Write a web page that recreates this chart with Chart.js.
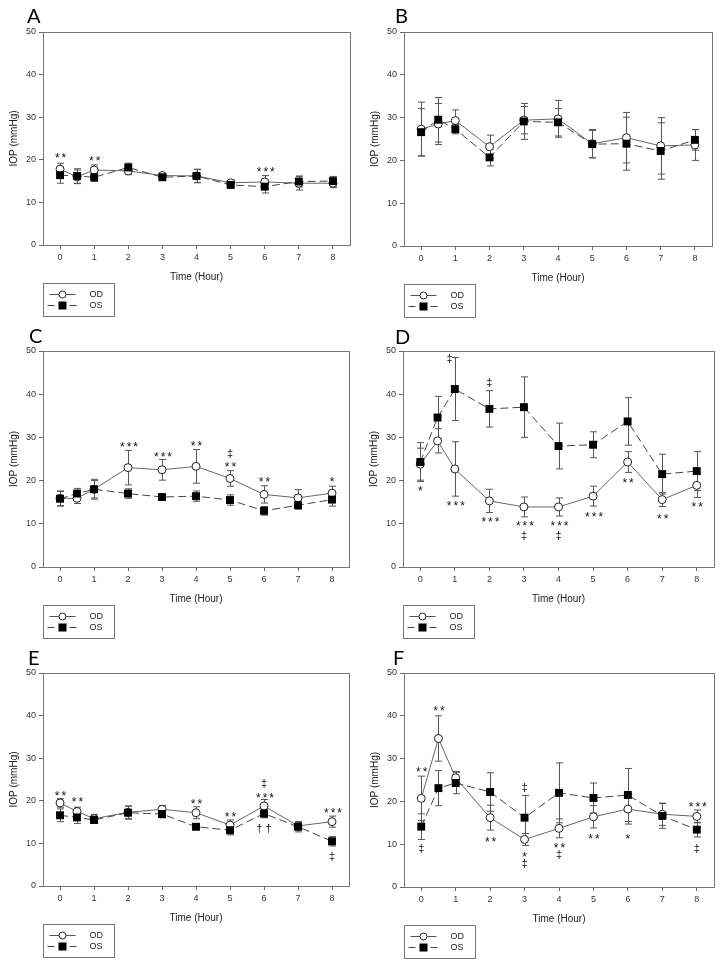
<!DOCTYPE html>
<html>
<head>
<meta charset="utf-8">
<script src="https://cdn.jsdelivr.net/npm/chart.js@4"></script>
<style>
body { margin: 0; background: #fff; width: 724px; height: 968px; position: relative; overflow: hidden; }
canvas { position: absolute; }
</style>
</head>
<body>
<script>
// time points and axis ticks
var hours = [0, 0.5, 1, 2, 3, 4, 5, 6, 7, 8];
var xTicks = [0, 1, 2, 3, 4, 5, 6, 7, 8];
var yTicks = [0, 10, 20, 30, 40, 50];

// panel A
var odA = [17.8, 16.0, 17.6, 17.4, 16.3, 16.2, 14.6, 14.8, 14.5, 14.5];
var odA_sd = [1.4, 1.6, 1.2, 0.9, 0.6, 1.5, 0.7, 1.5, 1.6, 1.0];
var osA = [16.4, 16.2, 15.9, 18.2, 15.9, 16.2, 14.1, 13.7, 14.9, 15.0];
var osA_sd = [1.9, 1.7, 1.0, 1.0, 0.5, 1.6, 0.6, 1.5, 1.3, 1.1];
var annA = [[0, 20.9, '**'], [1, 20.4, '**'], [6, 17.8, '***']];

// panel B
var odB = [27.3, 28.5, 29.3, 23.2, 29.4, 29.7, 23.9, 25.3, 23.4, 23.6];
var odB_sd = [6.3, 4.8, 2.5, 2.7, 3.2, 4.3, 3.3, 5.9, 6.6, 3.6];
var osB = [26.6, 29.5, 27.3, 20.7, 29.1, 28.9, 23.8, 23.9, 22.2, 24.8];
var osB_sd = [5.5, 5.2, 1.1, 2.0, 4.2, 3.2, 3.2, 6.2, 6.6, 2.4];
var annB = [];

// panel C
var odC = [15.9, 15.9, 18.0, 23.0, 22.5, 23.3, 20.5, 16.8, 16.0, 17.1];
var odC_sd = [1.7, 1.2, 2.3, 4.0, 2.4, 3.9, 1.8, 2.0, 1.9, 1.6];
var osC = [15.8, 17.0, 18.0, 17.0, 16.2, 16.4, 15.5, 13.0, 14.3, 15.6];
var osC_sd = [1.7, 1.2, 2.0, 1.1, 0.5, 1.2, 1.2, 1.0, 0.9, 1.5];
var annC = [[2, 28.4, '***'], [3, 26.1, '***'], [4, 28.5, '**'], [5, 26.2, '‡'], [5, 23.8, '**'],
            [6, 20.2, '**'], [8, 20.2, '*']];

// panel D
var odD = [23.8, 29.2, 22.7, 15.3, 13.9, 13.9, 16.4, 24.3, 15.6, 18.9];
var odD_sd = [3.7, 2.8, 6.3, 2.7, 2.3, 2.1, 2.3, 2.4, 1.6, 2.8];
var osD = [24.3, 34.6, 41.2, 36.6, 37.0, 28.0, 28.3, 33.7, 21.5, 22.2];
var osD_sd = [4.5, 4.9, 7.3, 4.2, 7.0, 5.3, 3.0, 5.5, 4.6, 4.5];
var annD = [[0, 18.1, '*'], [0.85, 48.3, '‡'], [1, 14.8, '***'], [2, 42.8, '‡'], [2, 11.1, '***'],
            [3, 10.1, '***'], [3, 7.2, '‡'], [4, 10.1, '***'], [4, 7.2, '‡'], [5, 12.1, '***'],
            [6, 20.0, '**'], [7, 11.8, '**'], [8, 14.4, '**']];

// panel E
var odE = [19.5, 17.5, 15.8, 17.3, 18.0, 17.2, 14.3, 18.8, 14.1, 15.1];
var odE_sd = [1.0, 1.0, 1.0, 1.5, 0.9, 1.4, 1.2, 1.5, 0.9, 1.3];
var osE = [16.6, 16.1, 15.5, 17.2, 16.9, 13.9, 13.1, 17.0, 13.9, 10.5];
var osE_sd = [1.5, 1.4, 0.8, 1.5, 0.9, 0.6, 1.1, 1.0, 1.2, 1.1];
var annE = [[0, 21.7, '**'], [0.5, 20.2, '**'], [4, 19.8, '**'], [5, 16.8, '**'], [6, 24.1, '‡'],
            [6, 21.3, '***'], [6, 13.4, '† †'], [8, 17.8, '***'], [8, 6.9, '‡']];

// panel F
var odF = [20.7, 34.7, 25.5, 16.2, 11.1, 13.7, 16.4, 18.2, 17.0, 16.5];
var odF_sd = [5.2, 5.3, 1.5, 2.9, 1.4, 2.2, 2.6, 3.5, 2.6, 1.5];
var osF = [14.1, 23.1, 24.3, 22.2, 16.2, 22.0, 20.8, 21.5, 16.6, 13.4];
var osF_sd = [3.0, 4.1, 2.5, 4.5, 5.2, 7.0, 3.5, 6.2, 2.9, 1.7];
var annF = [[0, 27.5, '**'], [0, 9.1, '‡'], [0.5, 41.7, '**'], [2, 11.2, '**'], [3, 23.2, '‡'],
            [3, 7.5, '*'], [3, 5.6, '‡'], [4, 9.6, '**'], [4, 7.5, '‡'], [5, 11.8, '**'],
            [6, 11.8, '*'], [8, 19.3, '***'], [8, 8.9, '‡']];

var FONT = "'Liberation Sans', Arial, sans-serif";

// plot boxes [left, top, right, bottom] in page pixels, letter [x, baseline]
var panels = [
  { name: 'A', od: odA, odSd: odA_sd, os: osA, osSd: osA_sd, ann: annA, box: [43, 32, 350, 245], letter: [27, 23] },
  { name: 'B', od: odB, odSd: odB_sd, os: osB, osSd: osB_sd, ann: annB, box: [404, 32, 712, 246], letter: [395, 23] },
  { name: 'C', od: odC, odSd: odC_sd, os: osC, osSd: osC_sd, ann: annC, box: [43, 351, 349, 567], letter: [29, 343] },
  { name: 'D', od: odD, odSd: odD_sd, os: osD, osSd: osD_sd, ann: annD, box: [403, 351, 714, 567], letter: [395, 344] },
  { name: 'E', od: odE, odSd: odE_sd, os: osE, osSd: osE_sd, ann: annE, box: [43, 673, 349, 886], letter: [28, 665] },
  { name: 'F', od: odF, odSd: odF_sd, os: osF, osSd: osF_sd, ann: annF, box: [404, 673, 714, 887], letter: [393, 665] }
];

var YW = 35, XH = 38;

function makePlugin(p, cx, cy) {
  return {
    id: 'iop' + p.name,
    beforeDatasetsDraw: function(chart) {
      var ctx = chart.ctx, xs = chart.scales.x, ys = chart.scales.y;
      ctx.save();
      ctx.strokeStyle = '#555';
      ctx.lineWidth = 1;
      [[p.od, p.odSd], [p.os, p.osSd]].forEach(function(s) {
        hours.forEach(function(h, i) {
          var x = Math.round(xs.getPixelForValue(h)) + 0.5;
          var t = ys.getPixelForValue(s[0][i] + s[1][i]);
          var b = ys.getPixelForValue(s[0][i] - s[1][i]);
          ctx.beginPath();
          ctx.moveTo(x, t); ctx.lineTo(x, b);
          ctx.moveTo(x - 3.5, t); ctx.lineTo(x + 3.5, t);
          ctx.moveTo(x - 3.5, b); ctx.lineTo(x + 3.5, b);
          ctx.stroke();
        });
      });
      ctx.restore();
    },
    afterDraw: function(chart) {
      var ctx = chart.ctx, a = chart.chartArea, xs = chart.scales.x, ys = chart.scales.y;
      ctx.save();
      // frame
      ctx.strokeStyle = '#777';
      ctx.lineWidth = 1;
      ctx.strokeRect(Math.round(a.left) + 0.5, Math.round(a.top) + 0.5,
                     Math.round(a.right - a.left), Math.round(a.bottom - a.top));
      // annotations
      ctx.fillStyle = '#111';
      ctx.textAlign = 'center';
      ctx.textBaseline = 'alphabetic';
      p.ann.forEach(function(n) {
        var star = n[2].indexOf('*') >= 0;
        ctx.font = (star ? '12px ' : '11px ') + FONT;
        ctx.letterSpacing = star ? '2px' : '0px';
        var m = ctx.measureText(n[2]);
        var x = xs.getPixelForValue(n[0]) + (star ? 1 * (n[2].length - 1) / 2 + 1 : 0);
        var y = ys.getPixelForValue(n[1]) + (m.actualBoundingBoxAscent - m.actualBoundingBoxDescent) / 2;
        ctx.fillText(n[2], x, y);
      });
      ctx.letterSpacing = '0px';
      // panel letter
      ctx.font = "20px Lato, 'Open Sans', sans-serif";
      ctx.textAlign = 'left';
      ctx.fillStyle = '#000';
      ctx.fillText(p.name, p.letter[0] - cx, p.letter[1] - cy);
      // legend box
      var lx = Math.round(a.left) + 0.5, ly = Math.round(a.bottom) + 38.5;
      ctx.strokeStyle = '#777';
      ctx.strokeRect(lx, ly, 71, 33);
      ctx.font = '9px ' + FONT;
      ctx.textBaseline = 'middle';
      // OD row
      ctx.strokeStyle = '#555';
      ctx.beginPath(); ctx.moveTo(lx + 6, ly + 11); ctx.lineTo(lx + 32, ly + 11); ctx.stroke();
      ctx.beginPath(); ctx.arc(lx + 19, ly + 11, 3.5, 0, Math.PI * 2);
      ctx.fillStyle = '#fff'; ctx.fill(); ctx.strokeStyle = '#222'; ctx.stroke();
      ctx.fillStyle = '#222'; ctx.fillText('OD', lx + 46, ly + 11);
      // OS row
      ctx.strokeStyle = '#444';
      ctx.setLineDash([7, 4]);
      ctx.beginPath(); ctx.moveTo(lx + 4, ly + 22); ctx.lineTo(lx + 34, ly + 22); ctx.stroke();
      ctx.setLineDash([]);
      ctx.fillStyle = '#000'; ctx.fillRect(lx + 15, ly + 18, 8, 8);
      ctx.fillStyle = '#222'; ctx.fillText('OS', lx + 46, ly + 22);
      ctx.restore();
    }
  };
}

panels.forEach(function(p, k) {
  var col = k % 2, row = Math.floor(k / 2);
  var cx = col * 362, cy = row * 320, w = 362, h = row == 2 ? 328 : 320;
  var c = document.createElement('canvas');
  c.width = w; c.height = h;
  c.style.left = cx + 'px'; c.style.top = cy + 'px';
  document.body.appendChild(c);

  var axisGrid = { drawOnChartArea: false, drawTicks: true, tickLength: 4, color: '#666' };
  var tickStyle = { font: { family: FONT, size: 9 }, color: '#333', padding: 3 };

  new Chart(c.getContext('2d'), {
    type: 'line',
    data: {
      datasets: [
        {
          label: 'OD',
          data: hours.map(function(t, i) { return { x: t, y: p.od[i] }; }),
          borderColor: '#666', borderWidth: 1,
          pointStyle: 'circle', pointRadius: 4, pointBorderWidth: 1,
          pointBorderColor: '#222', pointBackgroundColor: '#fff',
          order: 1
        },
        {
          label: 'OS',
          data: hours.map(function(t, i) { return { x: t, y: p.os[i] }; }),
          borderColor: '#444', borderWidth: 1, borderDash: [8, 4],
          pointStyle: 'rect', pointRadius: 5.6, pointBorderWidth: 0,
          pointBorderColor: '#000', pointBackgroundColor: '#000',
          order: 0
        }
      ]
    },
    options: {
      responsive: false,
      animation: false,
      devicePixelRatio: 1,
      layout: {
        padding: {
          left: p.box[0] - cx - YW,
          top: p.box[1] - cy,
          right: cx + w - p.box[2],
          bottom: cy + h - p.box[3] - XH
        }
      },
      plugins: { legend: { display: false }, tooltip: { enabled: false } },
      scales: {
        x: {
          type: 'linear', min: -0.5, max: 8.5,
          afterBuildTicks: function(s) { s.ticks = xTicks.map(function(v) { return { value: v }; }); },
          afterFit: function(s) { s.height = XH; },
          grid: axisGrid,
          border: { display: true, color: '#666' },
          ticks: tickStyle,
          title: { display: true, text: 'Time (Hour)', font: { family: FONT, size: 10 }, color: '#222', padding: 0 }
        },
        y: {
          min: 0, max: 50,
          afterBuildTicks: function(s) { s.ticks = yTicks.map(function(v) { return { value: v }; }); },
          afterFit: function(s) { s.width = YW; },
          grid: axisGrid,
          border: { display: true, color: '#666' },
          ticks: tickStyle,
          title: { display: true, text: 'IOP (mmHg)', font: { family: FONT, size: 10 }, color: '#222', padding: 0 }
        }
      }
    },
    plugins: [makePlugin(p, cx, cy)]
  });
});
</script>
</body>
</html>
